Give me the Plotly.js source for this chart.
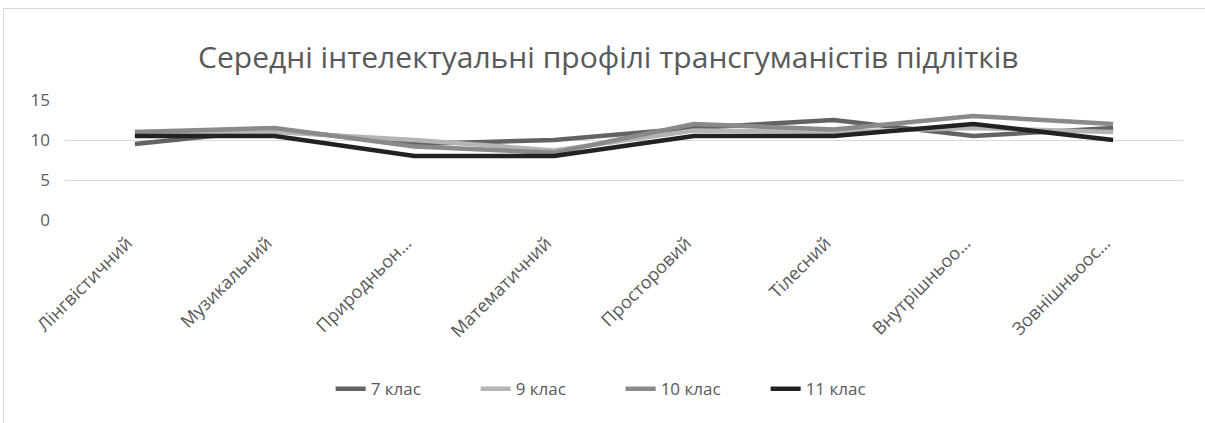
<!DOCTYPE html>
<html>
<head>
<meta charset="utf-8">
<script src="https://cdn.plot.ly/plotly-3.0.1.min.js"></script>
<style>
  html, body { margin: 0; padding: 0; background: #ffffff; overflow: hidden; }
  #frame { position: absolute; left: 3px; top: 8px; width: 1210px; height: 420px; border: 1px solid #d9d9d9; box-sizing: border-box; }
  #chart { position: absolute; left: 0; top: 0; width: 1208px; height: 418px; }
</style>
</head>
<body>
<div id="frame"><div id="chart"></div></div>
<script>
const categories = ["Лінгвістичний", "Музикальний", "Природньон…", "Математичний", "Просторовий", "Тілесний", "Внутрішньоо…", "Зовнішньоос…"];
const seriesNames = ["7 клас", "9 клас", "10 клас", "11 клас"];
const grade7  = [9.5, 11.3, 9.5, 10.0, 11.5, 12.5, 10.5, 11.5];
const grade9  = [11.0, 11.0, 10.0, 8.7, 11.2, 11.0, 11.5, 11.0];
const grade10 = [11.0, 11.5, 9.2, 8.4, 12.0, 11.3, 13.0, 12.0];
const grade11 = [10.5, 10.5, 8.0, 8.0, 10.5, 10.5, 12.0, 10.0];
const yTicks = [0, 5, 10, 15];

const colors = ["#636363", "#b4b4b4", "#8a8a8a", "#222222"];
const values = [grade7, grade9, grade10, grade11];

const traces = values.map((v, i) => ({
  type: "scatter",
  mode: "lines",
  name: seriesNames[i],
  x: categories,
  y: v,
  line: { color: colors[i], width: 4.5, shape: "linear" },
  hoverinfo: "x+y+name"
}));

const layout = {
  width: 1208,
  height: 418,
  margin: { l: 61, r: 29, t: 91, b: 207 },
  paper_bgcolor: "#ffffff",
  plot_bgcolor: "#ffffff",
  font: { family: "Open Sans, Liberation Sans, sans-serif", color: "#595959" },
  title: {
    text: "Середні інтелектуальні профілі трансгуманістів підлітків",
    font: { size: 30, color: "#595959", family: "Open Sans, sans-serif" },
    x: 0.486, xanchor: "center", xref: "paper",
    y: 0.885, yanchor: "middle"
  },
  xaxis: {
    type: "category",
    range: [-0.5, 7.5],
    tickangle: -45,
    tickfont: { size: 18, color: "#595959" },
    showgrid: false,
    showline: false,
    zeroline: false,
    ticks: "",
    ticklabelshift: -8,
    ticklabelstandoff: 8,
    automargin: false
  },
  yaxis: {
    range: [0, 15],
    tickvals: yTicks,
    ticktext: yTicks.map(String),
    tickfont: { size: 17, color: "#595959" },
    showgrid: true,
    gridcolor: "#d9d9d9",
    gridwidth: 1,
    zeroline: false,
    showline: false,
    ticks: "",
    ticklabelstandoff: 14,
    automargin: false
  },
  showlegend: true,
  legend: {
    orientation: "h",
    x: 0.497, xanchor: "center",
    y: -1.41, yanchor: "middle",
    font: { size: 17, color: "#595959" },
    entrywidth: 100,
    traceorder: "normal"
  }
};

Plotly.newPlot("chart", traces, layout, { displayModeBar: false, staticPlot: true });
</script>
</body>
</html>
